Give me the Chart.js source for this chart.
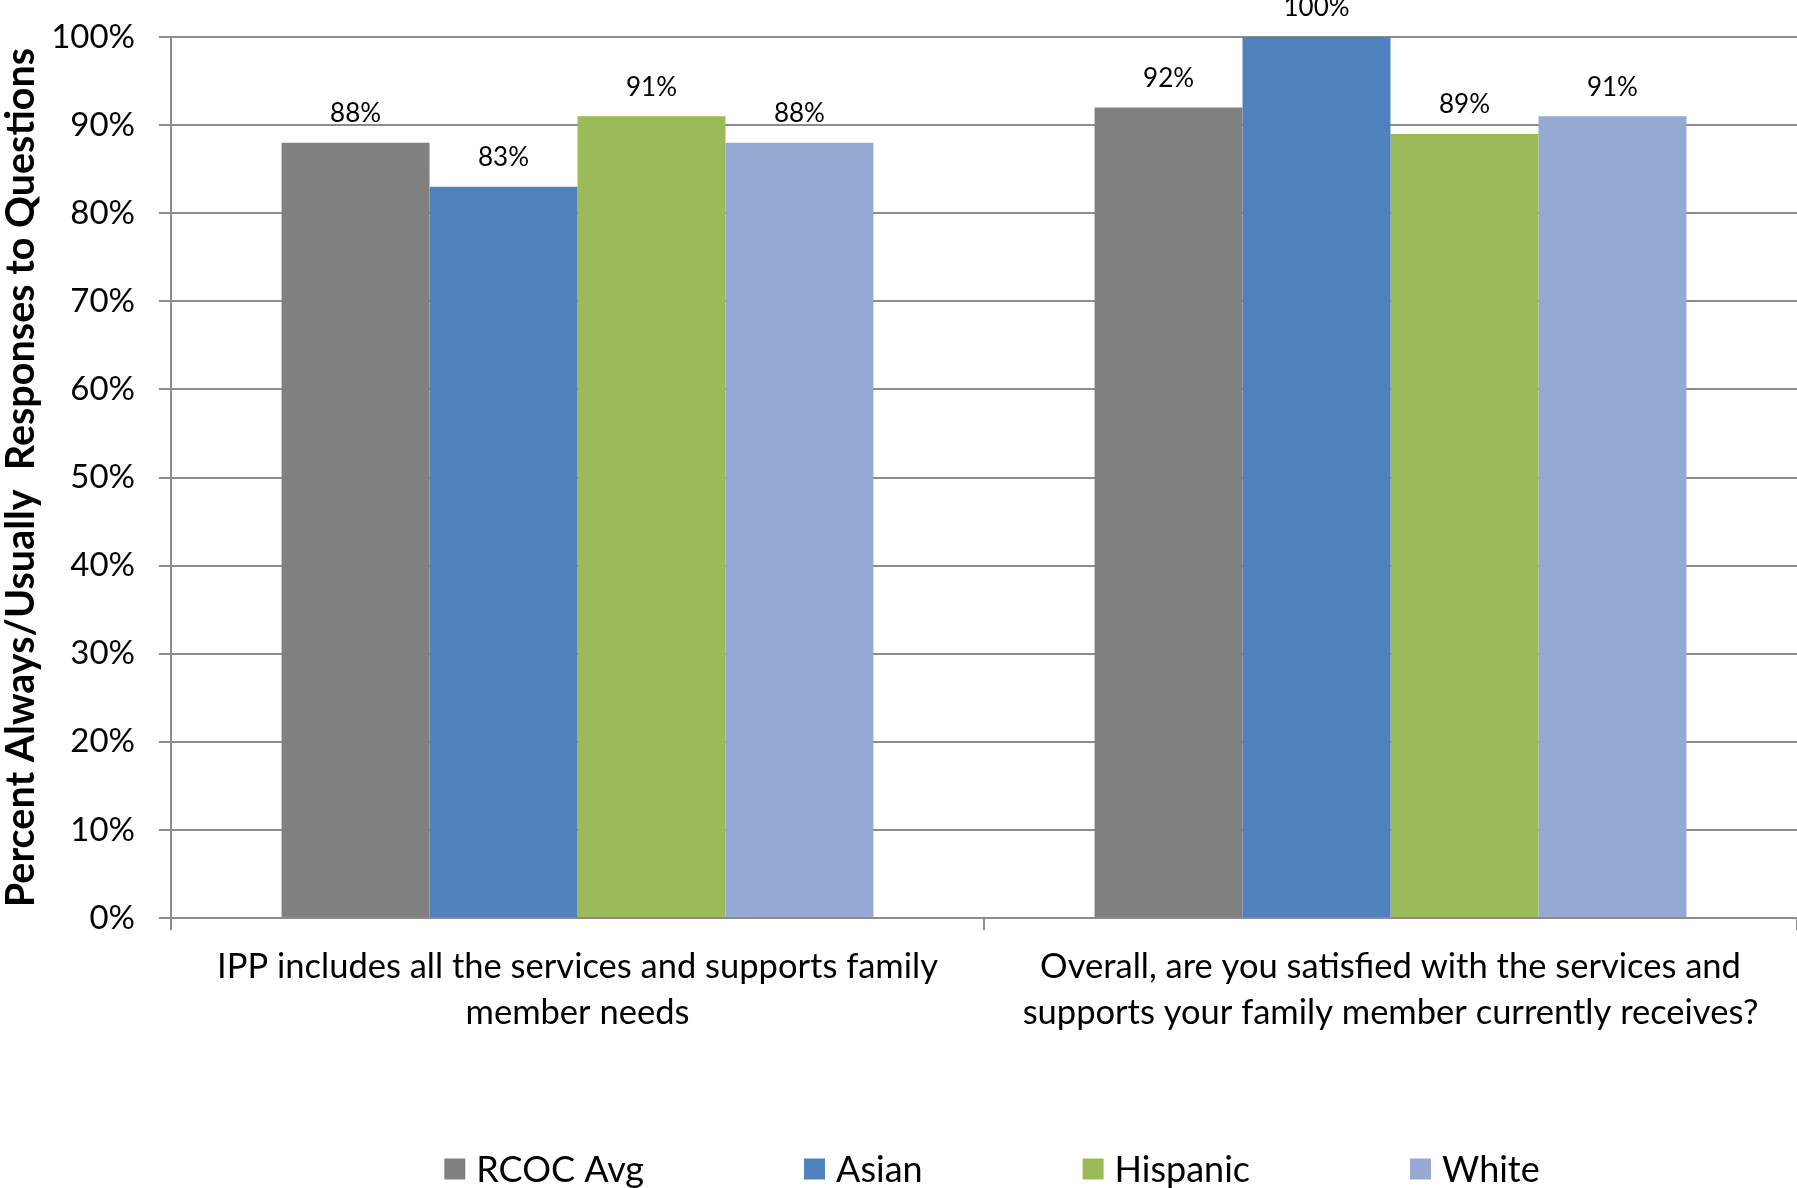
<!DOCTYPE html>
<html>
<head>
<meta charset="utf-8">
<title>Always/Usually Responses</title>
<script src="https://cdn.jsdelivr.net/npm/chart.js@4.4.1/dist/chart.umd.min.js"></script>
<style>
  html, body { margin: 0; padding: 0; background: #ffffff; }
  #wrap { width: 1797px; height: 1188px; }
</style>
</head>
<body>
<div id="wrap"><canvas id="surveyChart" width="1797" height="1188"></canvas></div>
<script>
// --- Data ---
const questions = [
    ['IPP includes all the services and supports family', 'member needs'],
    ['Overall, are you satisfied with the services and', 'supports your family member currently receives?']
];
const groupNames = ['RCOC Avg', 'Asian', 'Hispanic', 'White'];
const rcocAvg = [88, 92];
const asian = [83, 100];
const hispanic = [91, 89];
const white = [88, 91];
const yTicks = [0, 10, 20, 30, 40, 50, 60, 70, 80, 90, 100];

const barColors = ['#808080', '#4f81bd', '#9bbb59', '#95a9d2'];
const axisGray = '#8c8c8c';
const FONT = "Lato, 'Open Sans', 'DejaVu Sans', sans-serif";

// --- Plugins ---
// Percent labels above each bar
const valueLabels = {
    id: 'valueLabels',
    afterDatasetsDraw(chart) {
        const ctx = chart.ctx;
        ctx.save();
        ctx.font = '26px ' + FONT;
        ctx.fillStyle = '#000000';
        ctx.textAlign = 'center';
        ctx.textBaseline = 'middle';
        chart.data.datasets.forEach((ds, i) => {
            const meta = chart.getDatasetMeta(i);
            meta.data.forEach((bar, j) => {
                ctx.fillText(ds.data[j] + '%', bar.x, bar.y - 29);
            });
        });
        ctx.restore();
    }
};

// Legend drawn like Excel: square + label, wide gaps
const bottomLegend = {
    id: 'bottomLegend',
    afterDraw(chart) {
        const ctx = chart.ctx;
        const box = 21, textGap = 11, itemGap = 160;
        ctx.save();
        ctx.font = '36px ' + FONT;
        ctx.textBaseline = 'middle';
        const items = chart.data.datasets.map(ds => ({
            label: ds.label,
            color: ds.backgroundColor,
            w: box + textGap + ctx.measureText(ds.label).width
        }));
        const total = items.reduce((s, it) => s + it.w, 0) + itemGap * (items.length - 1);
        const area = chart.chartArea;
        let x = (area.left + area.right) / 2 + 8 - total / 2;
        const y = 1169;
        items.forEach(it => {
            ctx.fillStyle = it.color;
            ctx.fillRect(x, y - box / 2, box, box);
            ctx.fillStyle = '#000000';
            ctx.fillText(it.label, x + box + textGap, y + 1);
            x += it.w + itemGap;
        });
        ctx.restore();
    }
};

function initChart() {
    const ctx = document.getElementById('surveyChart').getContext('2d');
    const series = [rcocAvg, asian, hispanic, white];

    new Chart(ctx, {
        type: 'bar',
        data: {
            labels: questions,
            datasets: groupNames.map((name, i) => ({
                label: name,
                data: series[i],
                backgroundColor: barColors[i],
                borderWidth: 0,
                categoryPercentage: 0.728,
                barPercentage: 1.0
            }))
        },
        options: {
            responsive: false,
            animation: false,
            layout: { padding: { top: 37, right: 0, bottom: 0, left: 0 } },
            plugins: {
                legend: { display: false },
                tooltip: { enabled: false }
            },
            scales: {
                x: {
                    grid: {
                        offset: true,
                        drawOnChartArea: false,
                        drawTicks: true,
                        tickLength: 12,
                        color: axisGray,
                        lineWidth: 2
                    },
                    border: { display: true, color: axisGray, width: 2 },
                    ticks: {
                        color: '#000000',
                        padding: 14,
                        maxRotation: 0,
                        autoSkip: false,
                        font: { family: FONT, size: 34.5, lineHeight: 1.33 }
                    },
                    afterFit(scale) { scale.height = 270; }
                },
                y: {
                    min: 0,
                    max: 100,
                    afterBuildTicks(scale) {
                        scale.ticks = yTicks.map(v => ({ value: v }));
                    },
                    grid: {
                        color: axisGray,
                        lineWidth: 2,
                        drawTicks: true,
                        tickLength: 12
                    },
                    border: { display: true, color: axisGray, width: 2 },
                    ticks: {
                        color: '#000000',
                        padding: 24,
                        font: { family: FONT, size: 33 },
                        callback: v => v + '%'
                    },
                    title: {
                        display: true,
                        text: 'Percent Always/Usually  Responses to Questions',
                        color: '#000000',
                        padding: { top: 0, bottom: 0 },
                        font: { family: FONT, size: 39.5, weight: 'bold', lineHeight: 1.1 }
                    },
                    afterFit(scale) {
                        scale.width = 171;
                        // tick padding should not push the plot top down
                        scale.paddingTop = 0;
                        scale.paddingBottom = 0;
                    }
                }
            }
        },
        plugins: [valueLabels, bottomLegend]
    });
}

document.addEventListener('DOMContentLoaded', initChart);
</script>
</body>
</html>
